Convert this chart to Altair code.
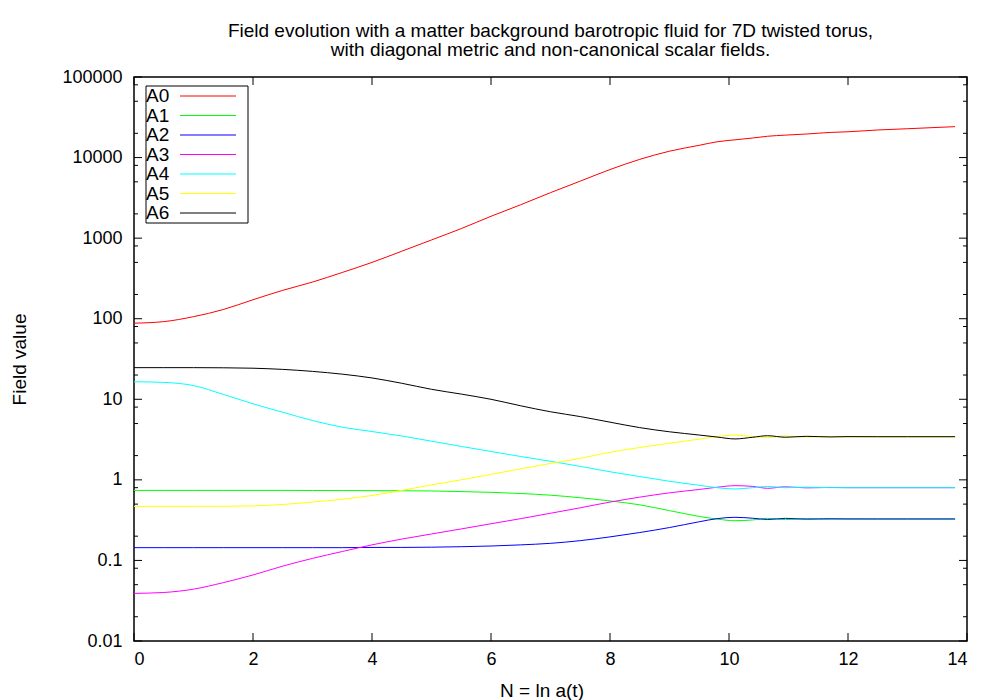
import altair as alt
import pandas as pd

# ---- data ----
N = [0, 0.5, 1, 1.5, 2, 2.5, 3, 3.5, 4, 4.5, 5, 5.5, 6, 6.5, 7, 7.5, 8, 8.5,
     9, 9.5, 9.8, 10.1, 10.4, 10.65, 10.95, 11.3, 11.7, 12, 12.5, 13, 13.8]

A0 = [88, 92, 106, 130, 172, 225, 285, 375, 500, 688, 950, 1314, 1867, 2600,
      3670, 5100, 7100, 9500, 12000, 14200, 15700, 16600, 17500, 18400, 19000,
      19600, 20500, 20900, 22000, 22800, 24200]
A1 = [0.74, 0.74, 0.74, 0.74, 0.74, 0.74, 0.738, 0.736, 0.735, 0.732, 0.728,
      0.715, 0.70, 0.677, 0.645, 0.60, 0.548, 0.49, 0.415, 0.352, 0.326,
      0.311, 0.318, 0.333, 0.321, 0.330, 0.325, 0.328, 0.327, 0.327, 0.327]
A2 = [0.144, 0.144, 0.144, 0.144, 0.144, 0.144, 0.144, 0.144, 0.145, 0.145,
      0.146, 0.148, 0.151, 0.156, 0.163, 0.176, 0.196, 0.222, 0.256, 0.302,
      0.330, 0.343, 0.334, 0.322, 0.333, 0.325, 0.329, 0.327, 0.327, 0.327,
      0.327]
A3 = [0.039, 0.040, 0.044, 0.053, 0.066, 0.085, 0.106, 0.129, 0.156, 0.184,
      0.213, 0.246, 0.285, 0.33, 0.385, 0.45, 0.53, 0.61, 0.69, 0.76, 0.81,
      0.847, 0.83, 0.785, 0.82, 0.795, 0.805, 0.80, 0.80, 0.80, 0.80]
A4 = [16.5, 16.2, 14.8, 11.5, 8.8, 6.9, 5.45, 4.5, 3.98, 3.5, 3.02, 2.6, 2.25,
      1.95, 1.70, 1.47, 1.26, 1.10, 0.96, 0.855, 0.80, 0.77, 0.80, 0.83,
      0.80, 0.812, 0.80, 0.80, 0.80, 0.80, 0.80]
A5 = [0.469, 0.469, 0.47, 0.47, 0.475, 0.495, 0.53, 0.575, 0.64, 0.74, 0.865,
      1.0, 1.17, 1.37, 1.6, 1.85, 2.2, 2.52, 2.85, 3.2, 3.45, 3.6, 3.45, 3.35,
      3.5, 3.40, 3.45, 3.43, 3.43, 3.43, 3.43]
A6 = [24.7, 24.7, 24.7, 24.6, 24.3, 23.5, 22.2, 20.5, 18.4, 15.8, 13.3, 11.6,
      10.0, 8.3, 7.0, 6.1, 5.2, 4.45, 3.95, 3.6, 3.40, 3.22, 3.38, 3.53, 3.38,
      3.47, 3.41, 3.44, 3.43, 3.43, 3.43]

series_names = ["A0", "A1", "A2", "A3", "A4", "A5", "A6"]
series_values = [A0, A1, A2, A3, A4, A5, A6]
series_colors = ["#ff0000", "#00ff00", "#0000ff", "#ff00ff", "#00ffff",
                 "#ffff00", "#000000"]

y_major = [0.01, 0.1, 1, 10, 100, 1000, 10000, 100000]
y_minor = [m * 10 ** k for k in range(-2, 5) for m in (2, 5, 8)]
x_major = [0, 2, 4, 6, 8, 10, 12, 14]

title_lines = ["Field evolution with a matter background barotropic fluid for 7D twisted torus,",
               "with diagonal metric and non-canonical scalar fields."]

# ---- tables ----
rows = []
for name, vals in zip(series_names, series_values):
    for n, v in zip(N, vals):
        rows.append({"N": n, "value": v, "series": name})
df = pd.DataFrame(rows)

W, H = 833, 564
FONT = "Liberation Sans"
AX = dict(grid=False, ticks=False, tickSize=0, domain=False,
          labelFont=FONT, labelFontSize=18, labelColor="black",
          titleFont=FONT, titleFontSize=19, titleFontWeight="normal",
          titleColor="black", titleBaseline="middle")

color = alt.Color("series:N", legend=None,
                  scale=alt.Scale(domain=series_names, range=series_colors))
xs = alt.Scale(domain=[0, 14], nice=False, zero=False)
ys = alt.Scale(type="log", domain=[0.01, 100000], nice=False)

lines = alt.Chart(df).mark_line(strokeWidth=1, interpolate="monotone", clip=True).encode(
    x=alt.X("N:Q", scale=xs, title="N = ln a(t)",
            axis=alt.Axis(values=x_major, format="d", labelPadding=9,
                          titleX=W / 2 - 9, titleY=49, **AX)),
    y=alt.Y("value:Q", scale=ys, title="Field value",
            axis=alt.Axis(values=y_major, format="~g", labelPadding=12,
                          titleX=-115, titleY=H / 2, **AX)),
    color=color,
    order=alt.Order("N:Q"),
)

ymaj_df = pd.DataFrame({"v": y_major})
ymin_df = pd.DataFrame({"v": y_minor})
xmaj_df = pd.DataFrame({"v": x_major})

def yticks(data, x1, x2):
    return alt.Chart(data).mark_rule(color="black", strokeWidth=1).encode(
        y=alt.Y("v:Q", scale=ys), x=alt.value(x1), x2=alt.value(x2))

def xticks(data, y1, y2):
    return alt.Chart(data).mark_rule(color="black", strokeWidth=1).encode(
        x=alt.X("v:Q", scale=xs), y=alt.value(y1), y2=alt.value(y2))

inner = alt.layer(
    lines,
    yticks(ymaj_df, 0, 8), yticks(ymaj_df, W, W - 8),
    yticks(ymin_df, 0, 4), yticks(ymin_df, W, W - 4),
    xticks(xmaj_df, H, H - 8), xticks(xmaj_df, 0, 8),
)

leg_df = pd.DataFrame({"series": series_names})
leg_y = alt.Y("series:N", axis=None,
              scale=alt.Scale(type="point", domain=series_names, range=[19, 136], padding=0))

leg_box = alt.Chart(alt.Data(values=[{"k": 1}])).mark_rect(
    fill="white", stroke="black", strokeWidth=1).encode(
    x=alt.value(12), x2=alt.value(114), y=alt.value(9), y2=alt.value(146))
leg_text = alt.Chart(leg_df).mark_text(
    align="left", baseline="middle", font=FONT, fontSize=19, color="black").encode(
    x=alt.value(12), y=leg_y, text="series:N")
leg_line = alt.Chart(leg_df).mark_rule(strokeWidth=1).encode(
    x=alt.value(46), x2=alt.value(102), y=leg_y, color=color)

legend = alt.layer(leg_box, leg_text, leg_line)

chart = alt.layer(inner, legend).resolve_scale(y="independent").properties(
    width=W, height=H, background="white",
    title=alt.TitleParams(title_lines, anchor="middle", frame="group",
                          font=FONT, fontSize=19, fontWeight="normal",
                          lineHeight=19, offset=8, color="black"),
    autosize=alt.AutoSizeParams(type="none"),
    padding={"left": 126, "top": 69, "right": 25, "bottom": 59},
).configure_view(stroke="black", strokeWidth=1.5)

chart.save("out.html", embed_options={"renderer": "svg", "actions": False})
